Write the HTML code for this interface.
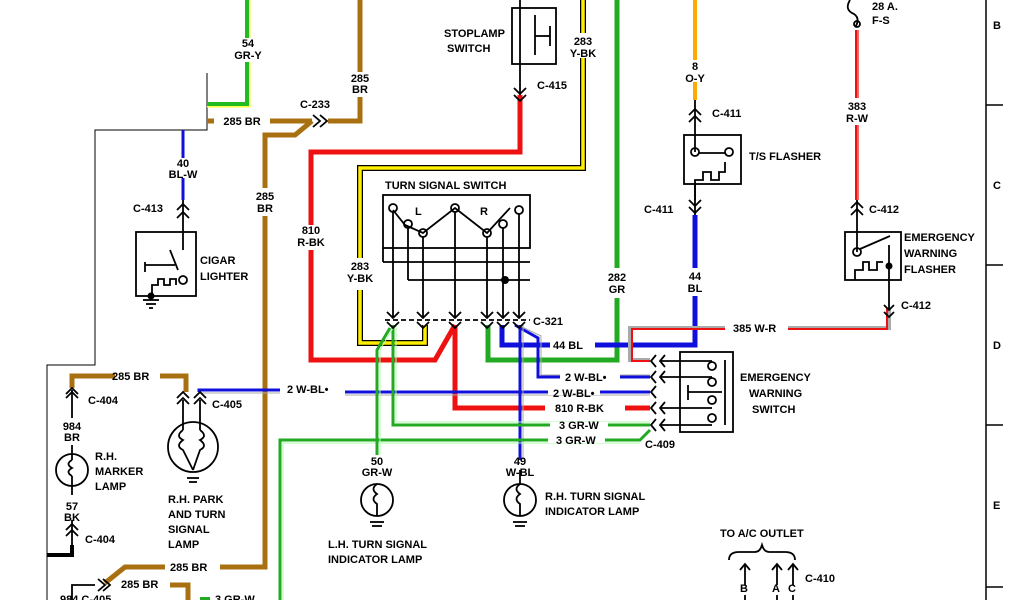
<!DOCTYPE html>
<html><head><meta charset="utf-8"><style>
html,body{margin:0;padding:0;background:#fff}
svg{display:block}
text{font-family:"Liberation Sans",sans-serif;font-weight:bold;font-size:11px;fill:#000}
</style></head><body>
<svg width="1024" height="600" viewBox="0 0 1024 600" xmlns="http://www.w3.org/2000/svg">
<g fill="none" stroke-linejoin="miter">
<polyline points="207,73 207,130 95,130 95,365 47,365 47,600" stroke="#000" stroke-width="1"/>
<line x1="986" y1="0" x2="986" y2="600" stroke="#000" stroke-width="1.5"/>
<line x1="986" y1="105" x2="1003" y2="105" stroke="#000" stroke-width="1.5"/>
<line x1="986" y1="265" x2="1003" y2="265" stroke="#000" stroke-width="1.5"/>
<line x1="986" y1="425" x2="1003" y2="425" stroke="#000" stroke-width="1.5"/>
<line x1="986" y1="587" x2="1003" y2="587" stroke="#000" stroke-width="1.5"/>

<polyline points="248,0 248,105 207,105" stroke="#ffff40" stroke-width="5"/>
<polyline points="247,0 247,104 207,104" stroke="#22bb22" stroke-width="4"/>
<line x1="247" y1="38" x2="247" y2="62" stroke="#fff" stroke-width="8"/>
<g stroke="#a87010" stroke-width="5">
<line x1="207" y1="121" x2="214" y2="121"/>
<line x1="270" y1="121" x2="312" y2="121"/>
<polyline points="328,121 360,121 360,0"/>
<polyline points="312,121 295,135 265,135 265,567 220,567"/>
<polyline points="165,567 125,567 105,583"/>
<polyline points="170,585 188,585 188,600"/>
<polyline points="72,388 72,376 90,376 115,376"/>
<polyline points="160,376 186,376 186,392"/>
</g>
<line x1="360" y1="72" x2="360" y2="97" stroke="#fff" stroke-width="8"/>
<line x1="265" y1="188" x2="265" y2="216" stroke="#fff" stroke-width="8"/>
<line x1="183" y1="130" x2="183" y2="158" stroke="#1010dd" stroke-width="3"/>
<line x1="183" y1="178" x2="183" y2="200" stroke="#1010dd" stroke-width="3"/>
<polyline points="520,95 520,152 311,152 311,360 435,360 455,325" stroke="#ee1111" stroke-width="5"/>
<line x1="311" y1="225" x2="311" y2="250" stroke="#fff" stroke-width="7"/>
<polyline points="455,325 455,408 545,408" stroke="#ee1111" stroke-width="5"/>
<line x1="625" y1="408" x2="650" y2="408" stroke="#ee1111" stroke-width="5"/>
<polyline points="583,0 583,168 360,168 360,343 425,343 425,325" stroke="#000" stroke-width="6"/>
<polyline points="583,0 583,168 360,168 360,343 425,343 425,325" stroke="#ffee00" stroke-width="3.5"/>
<line x1="360" y1="258" x2="360" y2="290" stroke="#fff" stroke-width="8"/>
<line x1="583" y1="33" x2="583" y2="58" stroke="#fff" stroke-width="8"/>
<polyline points="617,0 617,360 488,360 488,325" stroke="#22aa22" stroke-width="5"/>
<line x1="617" y1="268" x2="617" y2="298" stroke="#fff" stroke-width="7"/>
<line x1="695" y1="0" x2="695" y2="100" stroke="#ffaa00" stroke-width="4"/>
<line x1="695" y1="60" x2="695" y2="82" stroke="#fff" stroke-width="6"/>
<polyline points="695,215 695,345 502,345 502,325" stroke="#1010dd" stroke-width="5"/>
<line x1="695" y1="268" x2="695" y2="296" stroke="#fff" stroke-width="7"/>
<line x1="550" y1="345" x2="595" y2="345" stroke="#fff" stroke-width="7"/>
<line x1="857" y1="30" x2="857" y2="200" stroke="#ee1111" stroke-width="4"/>
<line x1="858" y1="30" x2="858" y2="200" stroke="#ffbbbb" stroke-width="1"/>
<line x1="857" y1="98" x2="857" y2="125" stroke="#fff" stroke-width="6"/>
<polyline points="889,308 889,328 630,328 630,360 650,360" stroke="#aaa" stroke-width="4"/>
<polyline points="887,308 887,329 632,329 632,361 650,361" stroke="#ee1111" stroke-width="2"/>
<line x1="725" y1="328" x2="788" y2="328" stroke="#fff" stroke-width="7"/>
<polyline points="199,392 199,390 280,390" stroke="#1010dd" stroke-width="3"/>
<polyline points="199,393 280,393" stroke="#aaa" stroke-width="1"/>
<polyline points="345,392 650,392" stroke="#1010dd" stroke-width="3"/>
<polyline points="345,395 650,395" stroke="#aaa" stroke-width="1"/>
<polyline points="515,325 538,338 538,377 650,377" stroke="#1010dd" stroke-width="3"/>
<polyline points="518,325 541,336 541,375 650,375" stroke="#aaa" stroke-width="1"/>
<line x1="560" y1="377" x2="620" y2="377" stroke="#fff" stroke-width="6"/>
<line x1="548" y1="392" x2="600" y2="392" stroke="#fff" stroke-width="6"/>
<polyline points="520,325 520,460" stroke="#1010dd" stroke-width="3"/>
<polyline points="523,325 523,460" stroke="#aaa" stroke-width="1"/>
<polyline points="393,325 393,425 650,425" stroke="#22aa22" stroke-width="3"/>
<polyline points="396,325 396,422 650,422" stroke="#aaffaa" stroke-width="1"/>
<line x1="550" y1="425" x2="608" y2="425" stroke="#fff" stroke-width="6"/>
<polyline points="280,600 280,440 640,440 650,430" stroke="#22aa22" stroke-width="3"/>
<polyline points="283,600 283,443 640,443" stroke="#aaffaa" stroke-width="1"/>
<line x1="548" y1="440" x2="605" y2="440" stroke="#fff" stroke-width="6"/>
<polyline points="200,600 210,600" stroke="#22aa22" stroke-width="6"/>
<polyline points="390,328 377,350 377,455" stroke="#22aa22" stroke-width="3"/>
<polyline points="393,328 380,350 380,455" stroke="#aaffaa" stroke-width="1"/>
</g>

<g fill="none" stroke="#000" stroke-width="1.8">
<rect x="512" y="8" width="44" height="56"/>
<line x1="520" y1="0" x2="520" y2="95"/>
<line x1="535" y1="15" x2="535" y2="55"/><line x1="535" y1="36" x2="550" y2="36"/><line x1="550" y1="26" x2="550" y2="46"/>
<path d="M514,88 l6,6 l6,-6 M514,95 l6,6 l6,-6"/>
<path d="M313,115 l7,6 l-7,6 M320,115 l7,6 l-7,6"/>
<rect x="136" y="232" width="60" height="64"/>
<line x1="183" y1="200" x2="183" y2="250"/>
<path d="M177,210 l6,-6 l6,6 M177,218 l6,-6 l6,6"/>
<line x1="145" y1="262" x2="145" y2="272"/><line x1="145" y1="265" x2="175" y2="265"/><line x1="170" y1="250" x2="178" y2="270"/>
<path d="M152,295 v-10 h6 v-6 h6 v6 h6 v-6 h6 v6"/><circle cx="183" cy="280" r="4"/>
<line x1="143" y1="300" x2="159" y2="300"/><line x1="146" y1="304" x2="156" y2="304"/><line x1="149" y1="308" x2="153" y2="308"/>
<rect x="383" y="195" width="147" height="53"/>
<polyline points="393,210 405,225 423,233 455,208 487,233 510,208"/>
<circle cx="393" cy="208" r="4"/><circle cx="408" cy="224" r="4"/><circle cx="423" cy="233" r="4"/><circle cx="455" cy="208" r="4"/><circle cx="487" cy="233" r="4"/><circle cx="503" cy="224" r="4"/><circle cx="519" cy="210" r="4"/>
<line x1="393" y1="212" x2="393" y2="318"/><line x1="408" y1="228" x2="408" y2="280"/><line x1="423" y1="237" x2="423" y2="318"/>
<line x1="455" y1="212" x2="455" y2="318"/><line x1="487" y1="237" x2="487" y2="318"/><line x1="503" y1="228" x2="503" y2="318"/><line x1="519" y1="214" x2="519" y2="318"/>
<line x1="383" y1="262" x2="530" y2="262"/><line x1="408" y1="280" x2="530" y2="280"/>
<line x1="383" y1="248" x2="383" y2="262"/>
<line x1="385" y1="320" x2="530" y2="320" stroke-dasharray="5,3"/>
<path d="M387,312 l6,6 l6,-6 M387,322 l6,6 l6,-6 M417,312 l6,6 l6,-6 M417,322 l6,6 l6,-6 M449,312 l6,6 l6,-6 M449,322 l6,6 l6,-6 M481,312 l6,6 l6,-6 M481,322 l6,6 l6,-6 M497,312 l6,6 l6,-6 M497,322 l6,6 l6,-6 M513,312 l6,6 l6,-6 M513,322 l6,6 l6,-6"/>
<rect x="684" y="135" width="57" height="49"/>
<line x1="695" y1="100" x2="695" y2="152"/>
<path d="M689,115 l6,-6 l6,6 M689,122 l6,-6 l6,6"/>
<circle cx="695" cy="152" r="4"/><circle cx="729" cy="152" r="4"/><line x1="699" y1="153" x2="725" y2="153"/>
<path d="M695,200 v-20 h8 v-8 h8 v8 h8 v-8 h6 v-10"/>
<line x1="695" y1="184" x2="695" y2="215"/>
<path d="M689,200 l6,6 l6,-6 M689,207 l6,6 l6,-6"/>
<path d="M850,0 q-6,10 4,14 q6,4 2,12"/><circle cx="857" cy="24" r="3"/>
<rect x="845" y="232" width="56" height="48"/>
<line x1="857" y1="200" x2="857" y2="252"/>
<path d="M851,208 l6,-6 l6,6 M851,215 l6,-6 l6,6"/>
<circle cx="857" cy="252" r="4"/><line x1="860" y1="249" x2="890" y2="236"/>
<path d="M855,280 v-10 h8 v-8 h6 v8 h8 v-8 h6"/>
<line x1="889" y1="245" x2="889" y2="310"/>
<path d="M884,305 l5,5 l5,-5 M884,312 l5,5 l5,-5"/>
<rect x="680" y="352" width="53" height="80"/>
<line x1="725" y1="360" x2="725" y2="425"/>
<line x1="660" y1="361" x2="712" y2="361"/><line x1="660" y1="377" x2="712" y2="377"/><line x1="660" y1="408" x2="712" y2="408"/><line x1="660" y1="425" x2="712" y2="425"/>
<circle cx="712" cy="366" r="4"/><circle cx="712" cy="382" r="4"/><circle cx="712" cy="400" r="4"/><circle cx="712" cy="418" r="4"/>
<line x1="688" y1="392" x2="722" y2="392"/><line x1="688" y1="385" x2="688" y2="400"/>
<path d="M656,355 l-5,6 l5,6 M665,355 l-5,6 l5,6 M656,371 l-5,6 l5,6 M665,371 l-5,6 l5,6 M656,386 l-5,6 l5,6 M656,402 l-5,6 l5,6 M665,402 l-5,6 l5,6 M656,419 l-5,6 l5,6 M665,419 l-5,6 l5,6"/>
<circle cx="193" cy="447" r="25"/>
<line x1="183" y1="400" x2="183" y2="430"/><line x1="200" y1="400" x2="200" y2="430"/>
<path d="M177,398 l6,-6 l6,6 M177,404 l6,-6 l6,6 M194,398 l6,-6 l6,6 M194,404 l6,-6 l6,6"/>
<path d="M183,430 q-8,6 0,10 q-8,6 0,10 l10,20 M200,430 q8,6 0,10 q8,6 0,10 l-7,20"/>
<line x1="187" y1="478" x2="199" y2="478"/><line x1="189" y1="482" x2="197" y2="482"/>
<circle cx="72" cy="470" r="16"/>
<line x1="72" y1="390" x2="72" y2="418"/><path d="M66,398 l6,-6 l6,6 M66,394 l6,-6 l6,6"/>
<line x1="72" y1="445" x2="72" y2="460"/><path d="M72,460 q-7,4 0,8 q-7,4 0,8"/><line x1="72" y1="476" x2="72" y2="495"/>
<line x1="72" y1="520" x2="72" y2="550"/><path d="M66,536 l6,-6 l6,6 M66,530 l6,-6 l6,6"/>
<polyline points="47,555 72,555 72,545" stroke-width="4"/>
<circle cx="377" cy="500" r="16"/>
<path d="M377,484 q-7,5 0,10 q-7,5 0,10 l0,12"/>
<line x1="370" y1="522" x2="384" y2="522"/><line x1="372" y1="526" x2="382" y2="526"/>
<circle cx="520" cy="500" r="16"/>
<line x1="520" y1="470" x2="520" y2="484"/>
<path d="M520,484 q-7,5 0,10 q-7,5 0,10 l0,12"/>
<line x1="513" y1="522" x2="527" y2="522"/><line x1="515" y1="526" x2="525" y2="526"/>
<polyline points="72,600 72,585 95,585"/><path d="M98,579 l7,6 l-7,6 M103,579 l7,6 l-7,6"/>
<path d="M729,560 q0,-8 10,-8 h16 q5,0 7,-7 q2,7 7,7 h16 q10,0 10,8"/>
<line x1="745" y1="565" x2="745" y2="585"/><line x1="777" y1="565" x2="777" y2="585"/><line x1="793" y1="565" x2="793" y2="585"/>
<path d="M740,570 l5,-6 l5,6 M772,570 l5,-6 l5,6 M788,570 l5,-6 l5,6"/>
<line x1="745" y1="595" x2="745" y2="600"/><line x1="777" y1="595" x2="777" y2="600"/><line x1="793" y1="595" x2="793" y2="600"/>
</g>
<circle cx="505" cy="280" r="4"/><circle cx="151" cy="296" r="3.5"/><circle cx="889" cy="266" r="3.5"/>

<g text-anchor="middle">
<text x="248" y="47">54</text><text x="248" y="59">GR-Y</text>
<text x="360" y="82">285</text><text x="360" y="93">BR</text>
<text x="242" y="125">285 BR</text><text x="315" y="108">C-233</text>
<text x="183" y="167">40</text><text x="183" y="178">BL-W</text>
<text x="265" y="200">285</text><text x="265" y="212">BR</text>
<text x="311" y="234">810</text><text x="311" y="246">R-BK</text>
<text x="360" y="270">283</text><text x="360" y="282">Y-BK</text>
<text x="583" y="45">283</text><text x="583" y="57">Y-BK</text>
<text x="617" y="281">282</text><text x="617" y="293">GR</text>
<text x="695" y="70">8</text><text x="695" y="82">O-Y</text>
<text x="695" y="280">44</text><text x="695" y="292">BL</text>
<text x="857" y="110">383</text><text x="857" y="122">R-W</text>
<text x="72" y="430">984</text><text x="72" y="441">BR</text>
<text x="72" y="510">57</text><text x="72" y="521">BK</text>
<text x="377" y="465">50</text><text x="377" y="476">GR-W</text>
<text x="520" y="465">49</text><text x="520" y="476">W-BL</text>
<text x="993" y="29" text-anchor="start">B</text>
</g>
<text x="444" y="37">STOPLAMP</text><text x="447" y="52">SWITCH</text>
<text x="537" y="89">C-415</text>
<text x="133" y="212">C-413</text>
<text x="200" y="264">CIGAR</text><text x="200" y="280">LIGHTER</text>
<text x="385" y="189">TURN  SIGNAL  SWITCH</text>
<text x="415" y="215" font-size="13">L</text><text x="480" y="215" font-size="13">R</text>
<text x="533" y="325">C-321</text>
<text x="712" y="117">C-411</text>
<text x="749" y="160">T/S FLASHER</text>
<text x="644" y="213">C-411</text>
<text x="872" y="10">28 A.</text><text x="872" y="24">F-S</text>
<text x="869" y="213">C-412</text>
<text x="904" y="241">EMERGENCY</text><text x="904" y="257">WARNING</text><text x="904" y="273">FLASHER</text>
<text x="901" y="309">C-412</text>
<text x="733" y="332">385 W-R</text>
<text x="553" y="349">44 BL</text>
<text x="565" y="381">2 W-BL•</text>
<text x="553" y="397">2 W-BL•</text>
<text x="555" y="412">810 R-BK</text>
<text x="559" y="429">3 GR-W</text>
<text x="556" y="444">3 GR-W</text>
<text x="645" y="448">C-409</text>
<text x="740" y="381">EMERGENCY</text><text x="749" y="397">WARNING</text><text x="752" y="413">SWITCH</text>
<text x="287" y="393">2 W-BL•</text>
<text x="112" y="380">285 BR</text>
<text x="88" y="404">C-404</text>
<text x="212" y="408">C-405</text>
<text x="95" y="460">R.H.</text><text x="95" y="475">MARKER</text><text x="95" y="490">LAMP</text>
<text x="168" y="503">R.H. PARK</text><text x="168" y="518">AND TURN</text><text x="168" y="533">SIGNAL</text><text x="168" y="548">LAMP</text>
<text x="85" y="543">C-404</text>
<text x="170" y="571">285 BR</text>
<text x="121" y="588">285 BR</text>
<text x="328" y="548">L.H. TURN SIGNAL</text><text x="328" y="563">INDICATOR LAMP</text>
<text x="545" y="500">R.H. TURN SIGNAL</text><text x="545" y="515">INDICATOR LAMP</text>
<text x="720" y="537">TO A/C OUTLET</text>
<text x="805" y="582">C-410</text>
<text x="740" y="592" font-size="9">B</text><text x="772" y="592" font-size="9">A</text><text x="788" y="592" font-size="9">C</text>
<text x="993" y="189">C</text><text x="993" y="349">D</text><text x="993" y="509">E</text>
<text x="215" y="603">3 GR-W</text>
<text x="60" y="603">984 C-405</text>
</svg>
</body></html>
